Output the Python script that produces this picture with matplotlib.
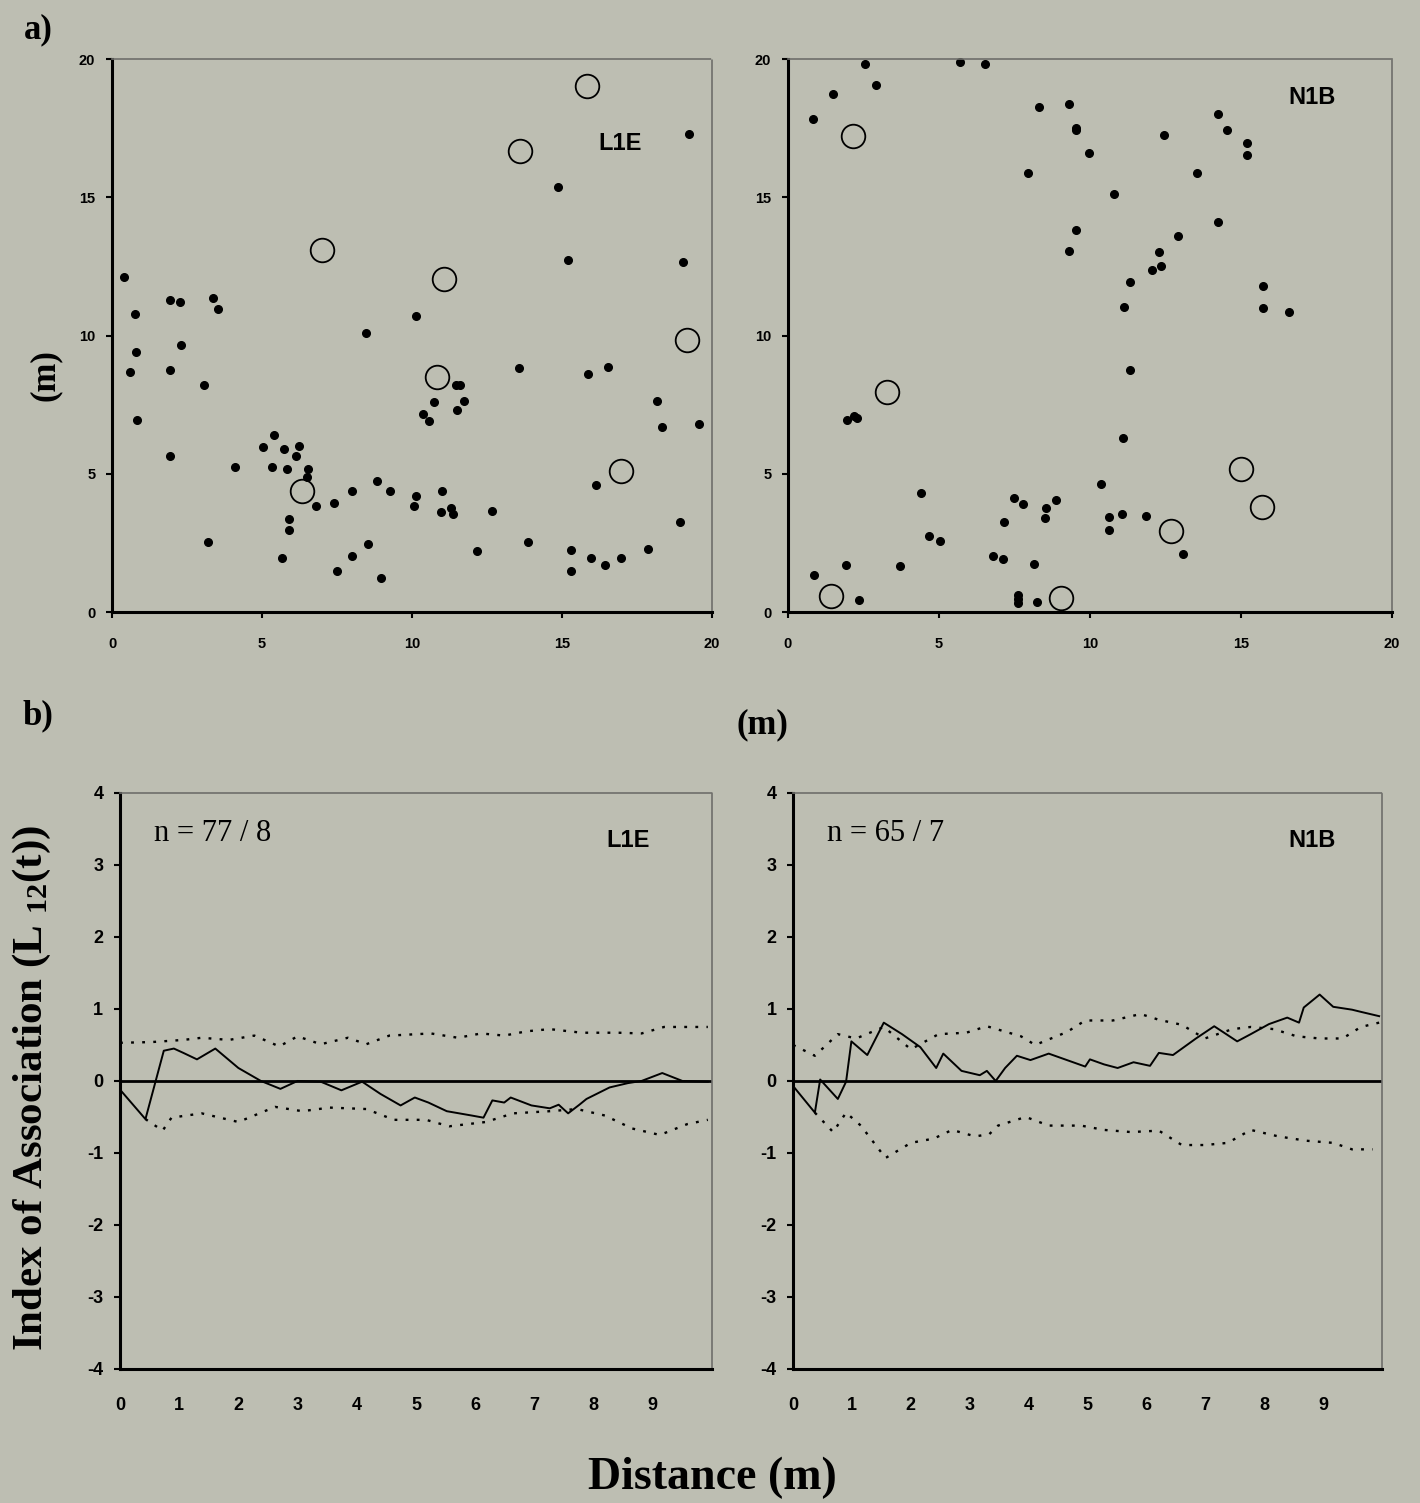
import matplotlib
matplotlib.use("Agg")
import matplotlib.pyplot as plt
import numpy as np

plt.rcParams["font.family"] = "Liberation Sans"
plt.rcParams["axes.unicode_minus"] = False
plt.rcParams["mathtext.fontset"] = "custom"
plt.rcParams["mathtext.rm"] = "Liberation Serif:bold"
plt.rcParams["mathtext.bf"] = "Liberation Serif:bold"
plt.rcParams["mathtext.default"] = "rm"

BG = "#bdbeb2"

# ---- a) maps: filled = one species, open = the other
l1e_x = [0.41, 0.75, 0.6, 0.81, 0.83, 1.93, 2.25, 1.93, 2.30, 1.93, 3.05, 3.19, 3.37, 3.53,
         4.11, 5.03, 5.40, 5.32, 5.74, 5.83, 6.23, 6.13, 5.89, 5.89, 5.67, 6.52, 6.50, 6.81,
         7.41, 7.50, 8.01, 7.99, 8.47, 8.53, 8.83, 8.96, 9.26, 10.12, 10.05, 10.12, 10.38,
         10.58, 10.72, 11.01, 10.95, 11.30, 11.35, 11.45, 11.6, 11.50, 11.72, 12.15, 12.68,
         13.57, 13.87, 14.88, 15.21, 15.31, 15.31, 15.86, 15.98, 16.13, 16.44, 16.55, 16.98,
         17.87, 18.17, 18.33, 18.94, 19.02, 19.23, 19.56]
l1e_y = [12.11, 10.77, 8.68, 9.40, 6.95, 11.29, 11.21, 8.76, 9.67, 5.63, 8.21, 2.55, 11.35, 10.96,
         5.24, 5.97, 6.40, 5.24, 5.90, 5.17, 6.01, 5.66, 3.35, 2.96, 1.97, 5.16, 4.87, 3.85,
         3.96, 1.48, 4.36, 2.04, 10.11, 2.47, 4.75, 1.23, 4.36, 10.71, 3.85, 4.20, 7.15,
         6.92, 7.61, 4.36, 3.62, 3.77, 3.54, 8.21, 8.21, 7.30, 7.63, 2.20, 3.66,
         8.84, 2.52, 15.38, 12.74, 2.26, 1.48, 8.60, 1.97, 4.59, 1.70, 8.88, 1.97,
         2.28, 7.63, 6.68, 3.27, 12.66, 17.30, 6.81]
l1e_ox = [7.01, 13.60, 15.83, 11.07, 10.84, 19.16, 6.32, 16.98]
l1e_oy = [13.08, 16.67, 19.03, 12.03, 8.49, 9.83, 4.37, 5.11]

n1b_x = [0.84, 1.48, 2.54, 2.91, 5.69, 6.53, 0.86, 1.91, 2.36, 1.94, 2.19, 2.30, 3.72, 4.41,
         4.67, 5.05, 6.78, 7.12, 7.16, 7.47, 7.77, 7.62, 7.62, 7.62, 8.16, 8.23, 8.54, 8.52,
         8.89, 7.94, 8.31, 9.29, 9.53, 9.53, 9.96, 9.29, 9.53, 10.37, 10.64, 10.64, 10.79,
         11.14, 11.31, 11.31, 11.09, 11.05, 11.86, 12.04, 12.27, 12.36, 12.44, 12.90, 13.08,
         13.54, 14.23, 14.23, 14.54, 15.19, 15.19, 15.72, 15.72, 16.60]
n1b_y = [17.85, 18.75, 19.83, 19.08, 19.91, 19.83, 1.34, 1.69, 0.44, 6.96, 7.08, 7.00, 1.66, 4.30,
         2.74, 2.58, 2.01, 1.93, 3.24, 4.14, 3.91, 0.63, 0.47, 0.32, 1.74, 0.35, 3.75, 3.40,
         4.06, 15.89, 18.28, 18.36, 17.50, 17.42, 16.60, 13.07, 13.83, 4.63, 3.45, 2.97, 15.13,
         11.04, 11.94, 8.74, 6.28, 3.56, 3.48, 12.36, 13.01, 12.52, 17.26, 13.60, 2.09,
         15.89, 18.02, 14.10, 17.42, 16.95, 16.52, 11.78, 10.99, 10.86]
n1b_ox = [2.14, 1.42, 3.29, 9.03, 12.67, 15.00, 15.68]
n1b_oy = [17.23, 0.58, 7.95, 0.52, 2.92, 5.19, 3.79]

# ---- b) L12(t) with envelopes
l1e_t = [0, 0.43, 0.74, 0.91, 1.07, 1.30, 1.61, 2.0, 2.38, 2.71, 3.0, 3.39, 3.74, 4.09, 4.4,
         4.74, 4.98, 5.21, 5.52, 5.94, 6.14, 6.29, 6.49, 6.60, 6.95, 7.26, 7.41, 7.57, 7.76,
         7.88, 8.27, 8.58, 8.81, 9.16, 9.50, 9.93]
l1e_L = [-0.12, -0.53, 0.42, 0.45, 0.39, 0.30, 0.45, 0.18, 0.0, -0.11, 0.0, -0.01, -0.13, -0.01,
         -0.18, -0.34, -0.23, -0.30, -0.42, -0.48, -0.51, -0.27, -0.30, -0.23, -0.34, -0.38,
         -0.33, -0.45, -0.33, -0.25, -0.09, -0.03, 0.0, 0.11, 0.0, -0.01]
l1e_ut = [0, 0.53, 1.07, 1.38, 1.84, 2.27, 2.69, 3.0, 3.39, 3.85, 4.16, 4.55, 5.25, 5.71, 6.1,
          6.49, 6.87, 7.26, 7.8, 8.42, 8.81, 9.19, 9.93]
l1e_up = [0.53, 0.54, 0.57, 0.60, 0.57, 0.63, 0.48, 0.62, 0.51, 0.60, 0.51, 0.63, 0.66, 0.60,
          0.66, 0.63, 0.69, 0.72, 0.67, 0.67, 0.66, 0.75, 0.75]
l1e_lt = [0.43, 0.72, 0.87, 1.38, 2.0, 2.62, 3.08, 3.54, 4.16, 4.63, 5.17, 5.56, 6.18, 6.64,
          7.26, 7.72, 8.19, 8.65, 9.12, 9.58, 9.93]
l1e_lo = [-0.53, -0.69, -0.51, -0.45, -0.57, -0.36, -0.42, -0.37, -0.39, -0.54, -0.54, -0.63,
          -0.57, -0.45, -0.42, -0.39, -0.48, -0.66, -0.75, -0.60, -0.54]

n1b_t = [0, 0.37, 0.46, 0.76, 0.9, 0.99, 1.26, 1.54, 1.85, 2.16, 2.43, 2.55, 2.86, 3.17, 3.29,
         3.44, 3.6, 3.8, 4.03, 4.34, 4.65, 4.96, 5.04, 5.28, 5.51, 5.78, 6.06, 6.21, 6.45, 6.84,
         7.15, 7.54, 7.77, 8.08, 8.39, 8.59, 8.67, 8.94, 9.17, 9.49, 9.64, 9.95]
n1b_L = [-0.07, -0.44, 0.02, -0.25, -0.01, 0.55, 0.36, 0.81, 0.65, 0.47, 0.18, 0.38, 0.14, 0.08,
         0.14, 0.0, 0.18, 0.35, 0.29, 0.38, 0.29, 0.20, 0.30, 0.23, 0.18, 0.26, 0.21, 0.39, 0.36,
         0.59, 0.76, 0.55, 0.65, 0.79, 0.88, 0.81, 1.02, 1.20, 1.03, 0.99, 0.96, 0.90]
n1b_ut = [0, 0.37, 0.76, 1.07, 1.54, 2.0, 2.47, 2.94, 3.29, 3.87, 4.11, 4.65, 4.96, 5.43, 5.90,
          6.21, 6.6, 6.99, 7.46, 7.77, 8.16, 8.55, 8.94, 9.33, 9.64, 9.95]
n1b_up = [0.50, 0.35, 0.65, 0.59, 0.75, 0.44, 0.65, 0.67, 0.76, 0.62, 0.50, 0.68, 0.84, 0.84,
          0.93, 0.85, 0.78, 0.59, 0.72, 0.75, 0.72, 0.62, 0.59, 0.59, 0.75, 0.81]
n1b_lt = [0.37, 0.68, 0.9, 1.15, 1.57, 2.0, 2.39, 2.7, 3.09, 3.33, 3.48, 3.95, 4.34, 4.89, 5.28,
          5.74, 6.21, 6.6, 6.99, 7.38, 7.77, 8.24, 8.71, 9.17, 9.49, 9.84]
n1b_lo = [-0.44, -0.71, -0.44, -0.62, -1.07, -0.86, -0.80, -0.68, -0.77, -0.74, -0.62, -0.50,
          -0.62, -0.62, -0.68, -0.71, -0.69, -0.89, -0.89, -0.86, -0.68, -0.77, -0.83, -0.86,
          -0.95, -0.95]

fig = plt.figure(figsize=(14.2, 15.03), dpi=100, facecolor=BG)

def frame(ax):
    ax.set_facecolor(BG)
    for s in ["left", "bottom"]:
        ax.spines[s].set_linewidth(2.2)
        ax.spines[s].set_color("black")
    for s in ["top", "right"]:
        ax.spines[s].set_linewidth(1.2)
        ax.spines[s].set_color("#6e6e6a")
        ax.spines[s].set_linestyle((0, (1, 1)))

# top row maps
maps = [("L1E", l1e_x, l1e_y, l1e_ox, l1e_oy, [0.0789, 0.5928, 0.4225, 0.3679], (0.847, 0.848)),
        ("N1B", n1b_x, n1b_y, n1b_ox, n1b_oy, [0.5549, 0.5928, 0.4254, 0.3679], (0.868, 0.931))]
for name, fx, fy, ox, oy, rect, lab in maps:
    ax = fig.add_axes(rect)
    frame(ax)
    ax.plot(fx, fy, "o", color="black", ms=5.5, clip_on=False)
    ax.plot(ox, oy, "o", mfc="none", mec="black", mew=1.3, ms=17, clip_on=False)
    ax.set_xlim(0, 20)
    ax.set_ylim(0, 20)
    ax.set_xticks([0, 5, 10, 15, 20])
    ax.set_yticks([0, 5, 10, 15, 20])
    ax.tick_params(direction="out", length=4, width=1.5, labelsize=10.5, pad=8)
    ax.tick_params(axis="x", pad=14)
    for lbl in ax.get_xticklabels() + ax.get_yticklabels():
        lbl.set_fontweight("bold")
    ax.text(lab[0], lab[1], name, transform=ax.transAxes, ha="center", va="center",
            fontsize=17, fontweight="bold")

# bottom row L12
curves = [("L1E", "n = 77 / 8", l1e_t, l1e_L, l1e_ut, l1e_up, l1e_lt, l1e_lo,
           [0.0845, 0.0892, 0.4169, 0.3832], 0.858),
          ("N1B", "n = 65 / 7", n1b_t, n1b_L, n1b_ut, n1b_up, n1b_lt, n1b_lo,
           [0.5585, 0.0892, 0.4148, 0.3832], 0.881)]
for name, ntxt, t, L, ut, up, lt, lo, rect, lx in curves:
    ax = fig.add_axes(rect)
    frame(ax)
    ax.axhline(0, color="black", lw=2)
    ax.plot(ut, up, color="black", lw=1.7, ls=(0, (1.2, 3.5)))
    ax.plot(lt, lo, color="black", lw=1.7, ls=(0, (1.2, 3.5)))
    ax.plot(t, L, color="black", lw=1.4)
    ax.set_xlim(0, 10)
    ax.set_ylim(-4, 4)
    ax.set_xticks(range(10))
    ax.set_yticks(range(-4, 5))
    ax.tick_params(axis="y", direction="out", length=4, width=1.5, labelsize=13, pad=8)
    ax.tick_params(axis="x", length=0, labelsize=13, pad=20)
    for lbl in ax.get_xticklabels() + ax.get_yticklabels():
        lbl.set_fontweight("bold")
    ax.text(lx, 0.918, name, transform=ax.transAxes, ha="center", va="center",
            fontsize=17, fontweight="bold")
    ax.text(0.057, 0.93, ntxt, transform=ax.transAxes, ha="left", va="center",
            fontsize=22, family="Liberation Serif")

serif = dict(family="Liberation Serif", fontweight="bold")
fig.text(38 / 1420, 1 - 30 / 1503, "a)", ha="center", va="center", fontsize=25, **serif)
fig.text(38 / 1420, 1 - 716 / 1503, "b)", ha="center", va="center", fontsize=25, **serif)
fig.text(45 / 1420, 1 - 375 / 1503, "(m)", ha="center", va="center", rotation=90,
         fontsize=25, **serif)
fig.text(762 / 1420, 1 - 725 / 1503, "(m)", ha="center", va="center", fontsize=25, **serif)
fig.text(712 / 1420, 1 - 1478 / 1503, "Distance (m)", ha="center", va="center",
         fontsize=33, **serif)
fig.text(32 / 1420, 1 - 1088 / 1503, r"Index of Association (L $_{12}$(t))", ha="center",
         va="center", rotation=90, fontsize=31, **serif)

fig.savefig("out.png", dpi=100, facecolor=BG)
